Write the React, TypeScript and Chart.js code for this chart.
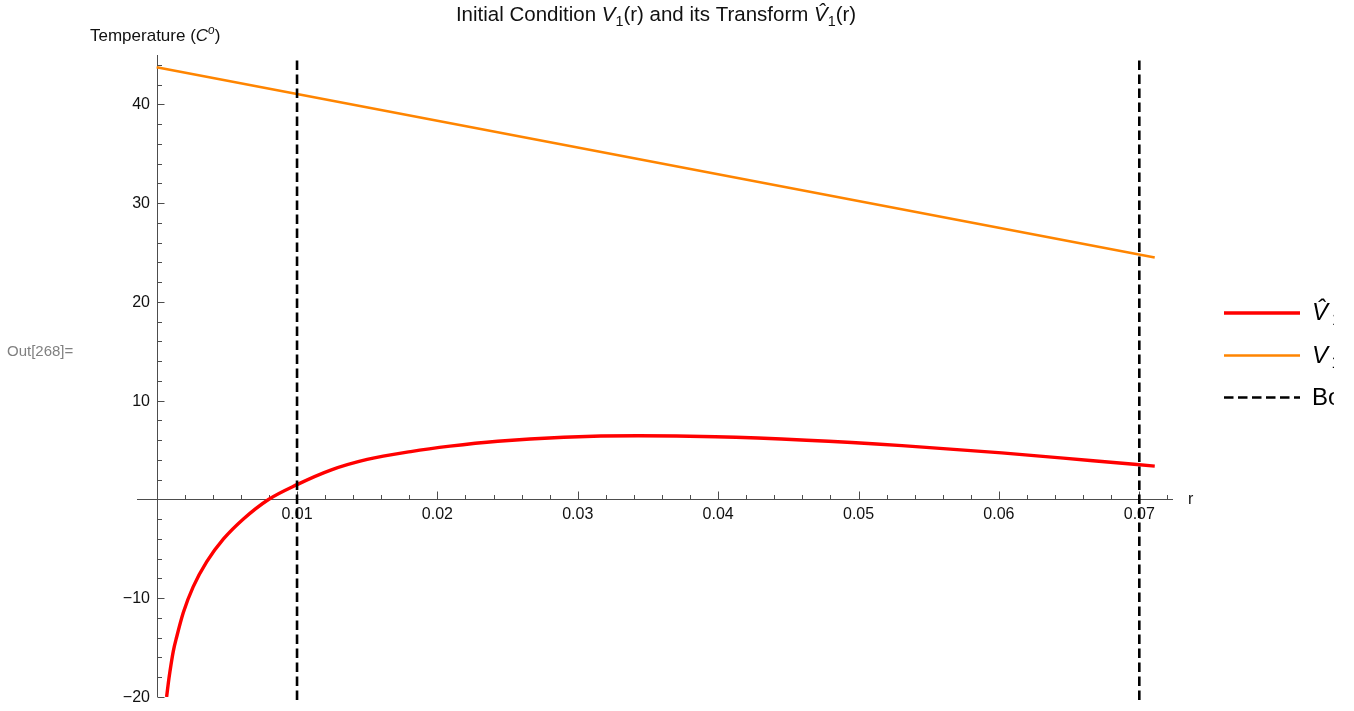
import React, { useEffect, useRef } from "react";
import { Chart, registerables } from "chart.js";

Chart.register(...registerables);

// Transformed initial condition V̂1(r)
const transformR = [
  0.00071, 0.00083, 0.00095, 0.00118, 0.00143, 0.0019, 0.0026, 0.00357, 0.00476,
  0.0062, 0.00797, 0.01, 0.0124, 0.015, 0.0181, 0.0209, 0.0243, 0.029, 0.0343,
  0.0398, 0.0463, 0.0531, 0.0602, 0.0665, 0.0711,
];
const transformV = [
  -20.0, -18.6, -17.4, -15.4, -13.9, -11.45, -8.85, -6.3, -4.0,
  -1.95, 0.0, 1.5, 2.97, 4.05, 4.85, 5.4, 5.9, 6.3, 6.45,
  6.35, 6.0, 5.45, 4.72, 3.95, 3.38,
];

// Initial condition V1(r), a straight line
const initialR = [0, 0.0711];
const initialV = [43.75, 24.5];

// Boundary positions and vertical extent of the dashed markers
const boundaryR = [0.01, 0.07];
const boundarySpan = [-20.3, 44.7];

// Axis ticks
const xMajorTicks = [0.01, 0.02, 0.03, 0.04, 0.05, 0.06, 0.07];
const xTickLabels = ["0.01", "0.02", "0.03", "0.04", "0.05", "0.06", "0.07"];
const yMajorTicks = [-20, -10, 10, 20, 30, 40];
const yTickLabels = ["\u221220", "\u221210", "10", "20", "30", "40"];
const xMinorStep = 0.002;
const yMinorStep = 2;

const FAMILY = '"Liberation Sans", Arial, Helvetica, sans-serif';

type Run = { t: string; it?: boolean; sub?: boolean; sup?: boolean; gap?: number };

const titleRuns: Run[] = [
  { t: "Initial Condition " },
  { t: "V", it: true },
  { t: "1", sub: true },
  { t: "(r) and its Transform " },
  { t: "V\u0302", it: true },
  { t: "1", sub: true },
  { t: "(r)" },
];
const yLabelRuns: Run[] = [
  { t: "Temperature (" },
  { t: "C", it: true },
  { t: "o", it: true, sup: true },
  { t: ")" },
];
const legendRuns: Run[][] = [
  [{ t: "V\u0302", it: true }, { t: "1", sub: true, gap: 4 }, { t: "(r)" }],
  [{ t: "V", it: true }, { t: "1", sub: true, gap: 3.5 }, { t: "(r)" }],
  [{ t: "Boundary" }],
];

function fontFor(size: number, r: Run) {
  const s = r.sub || r.sup ? size * 0.7 : size;
  return `${r.it ? "italic " : ""}${s}px ${FAMILY}`;
}

function drawRuns(
  ctx: CanvasRenderingContext2D,
  runs: Run[],
  x: number,
  y: number,
  size: number,
  align: "left" | "center" | "right",
  color: string
) {
  let w = 0;
  for (const r of runs) {
    ctx.font = fontFor(size, r);
    w += ctx.measureText(r.t).width + (r.gap || 0);
  }
  let cx = align === "left" ? x : align === "center" ? x - w / 2 : x - w;
  ctx.textAlign = "left";
  ctx.textBaseline = "alphabetic";
  ctx.fillStyle = color;
  for (const r of runs) {
    ctx.font = fontFor(size, r);
    cx += r.gap || 0;
    const dy = r.sub ? size * 0.22 : r.sup ? -size * 0.4 : 0;
    ctx.fillText(r.t, cx, y + dy);
    cx += ctx.measureText(r.t).width;
  }
}

const axesPlugin = {
  id: "originAxes",
  beforeDatasetsDraw(chart: any) {
    const { ctx, chartArea } = chart;
    const xs = chart.scales.x;
    const ys = chart.scales.y;
    const x0 = Math.round(xs.getPixelForValue(0)) + 0.5;
    const y0 = Math.round(ys.getPixelForValue(0)) + 0.5;
    ctx.save();
    ctx.strokeStyle = "#4d4d4d";
    ctx.lineWidth = 1;
    ctx.beginPath();
    ctx.moveTo(chartArea.left, y0);
    ctx.lineTo(chartArea.right, y0);
    ctx.moveTo(x0, chartArea.top);
    ctx.lineTo(x0, chartArea.bottom);
    // x ticks (pointing up, into the plot)
    for (let v = xMinorStep; v <= xs.max + 1e-9; v += xMinorStep) {
      const px = Math.round(xs.getPixelForValue(v)) + 0.5;
      const major = xMajorTicks.some((m) => Math.abs(m - v) < 1e-7);
      ctx.moveTo(px, y0);
      ctx.lineTo(px, y0 - (major ? 8 : 4.5));
    }
    // y ticks (pointing right)
    for (let v = ys.min; v <= ys.max + 1e-9; v += yMinorStep) {
      if (Math.abs(v) < 1e-9) continue;
      const py = Math.round(ys.getPixelForValue(v)) + 0.5;
      const major = yMajorTicks.includes(v);
      ctx.moveTo(x0, py);
      ctx.lineTo(x0 + (major ? 7 : 4.5), py);
    }
    ctx.stroke();

    ctx.fillStyle = "#111";
    ctx.font = `16px ${FAMILY}`;
    ctx.textAlign = "center";
    ctx.textBaseline = "alphabetic";
    xMajorTicks.forEach((v, i) => {
      ctx.fillText(xTickLabels[i], xs.getPixelForValue(v), y0 + 19.5);
    });
    ctx.textAlign = "right";
    ctx.textBaseline = "middle";
    yMajorTicks.forEach((v, i) => {
      ctx.fillText(yTickLabels[i], x0 - 7.5, ys.getPixelForValue(v) + 0.5);
    });
    ctx.textAlign = "left";
    ctx.textBaseline = "middle";
    ctx.fillText("r", chartArea.right + 15, y0);
    ctx.restore();
  },
  afterDraw(chart: any) {
    const { ctx } = chart;
    ctx.save();
    drawRuns(ctx, titleRuns, 656, 21, 20.5, "center", "#111");
    drawRuns(ctx, yLabelRuns, 90, 41, 17, "left", "#111");
    drawRuns(ctx, [{ t: "Out[268]=" }], 7, 356, 15, "left", "#808080");

    // legend, styled from the datasets it describes; the output cell cuts it off on the right
    ctx.beginPath();
    ctx.rect(1200, 280, 134, 140);
    ctx.clip();
    const ds = chart.data.datasets;
    const entries = [ds[0], ds[1], ds[2]];
    const rows = [313, 355.5, 397.5];
    entries.forEach((d: any, i: number) => {
      ctx.beginPath();
      ctx.strokeStyle = d.borderColor;
      ctx.lineWidth = d.borderWidth;
      ctx.setLineDash(d.borderDash || []);
      ctx.moveTo(1224, rows[i]);
      ctx.lineTo(1300, rows[i]);
      ctx.stroke();
      ctx.setLineDash([]);
      drawRuns(ctx, legendRuns[i], 1312, rows[i] + 7, 24, "left", "#000");
    });
    ctx.restore();
  },
};

export default function App() {
  const ref = useRef<HTMLCanvasElement>(null);

  useEffect(() => {
    const transformPts = transformR.map((r, i) => ({ x: r, y: transformV[i] }));
    const initialPts = initialR.map((r, i) => ({ x: r, y: initialV[i] }));
    const boundarySets = boundaryR.map((r) => ({
      label: "Boundary",
      data: boundarySpan.map((v) => ({ x: r, y: v })),
      borderColor: "#000000",
      borderWidth: 2.6,
      borderDash: [9.5, 4.5],
      showLine: true,
      pointRadius: 0,
      order: 0,
      clip: false as const,
    }));

    const chart = new Chart(ref.current!, {
      type: "scatter",
      data: {
        datasets: [
          {
            label: "V\u03021(r)",
            data: transformPts,
            borderColor: "#ff0000",
            borderWidth: 3.4,
            showLine: true,
            pointRadius: 0,
            cubicInterpolationMode: "monotone",
            order: 1,
          },
          {
            label: "V1(r)",
            data: initialPts,
            borderColor: "#ff8500",
            borderWidth: 2.6,
            showLine: true,
            pointRadius: 0,
            order: 2,
          },
          ...boundarySets,
        ] as any,
      },
      options: {
        responsive: false,
        animation: false,
        devicePixelRatio: 1,
        layout: { padding: { left: 137, right: 181, top: 55, bottom: 14 } },
        plugins: {
          legend: { display: false },
          title: { display: false },
          tooltip: { enabled: false },
        },
        scales: {
          x: { type: "linear", min: -0.0014, max: 0.0724, display: false },
          y: { type: "linear", min: -20, max: 45, display: false },
        },
      },
      plugins: [axesPlugin],
    });
    return () => chart.destroy();
  }, []);

  return (
    <div
      style={{
        position: "fixed",
        left: 0,
        top: 0,
        width: 1354,
        height: 711,
        overflow: "hidden",
        background: "#ffffff",
      }}
    >
      <canvas
        ref={ref}
        width={1354}
        height={711}
        style={{ display: "block", width: 1354, height: 711 }}
      />
    </div>
  );
}
